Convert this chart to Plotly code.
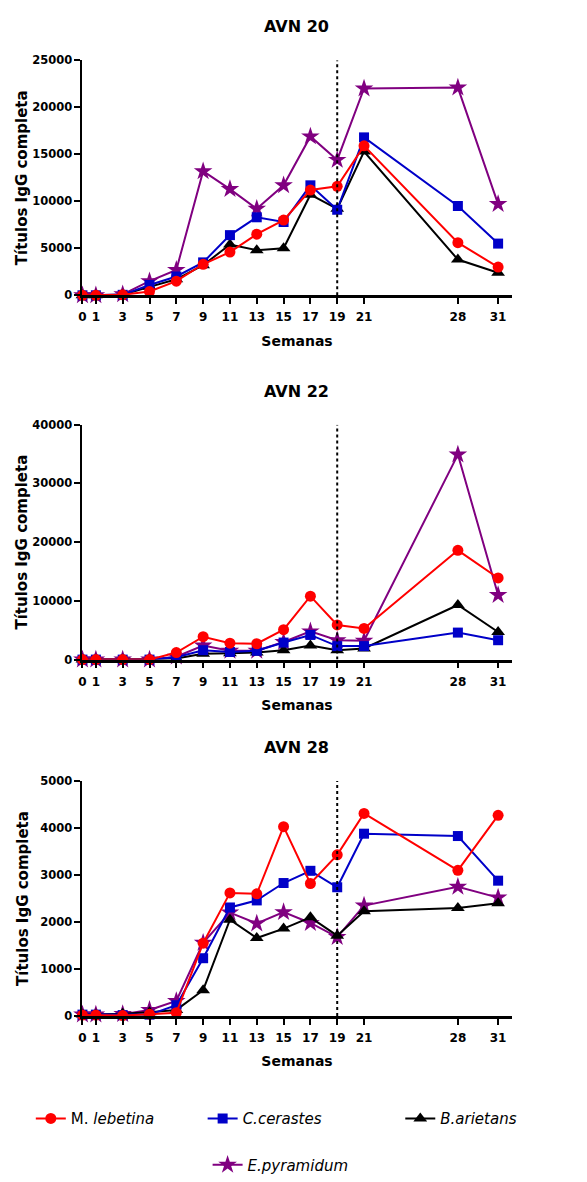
import plotly.graph_objects as go

weeks = [0, 1, 3, 5, 7, 9, 11, 13, 15, 17, 19, 21, 28, 31]
week_ticks = [0, 1, 3, 5, 7, 9, 11, 13, 15, 17, 19, 21, 28, 31]

panel_titles = ["AVN 20", "AVN 22", "AVN 28"]
y_max = [25000, 40000, 5000]
y_step = [5000, 10000, 1000]

series_names = ["M. <i>lebetina</i>", "<i>C.cerastes</i>", "<i>B.arietans</i>", "<i>E.pyramidum</i>"]

# AVN 20
mleb_20 = [0, 0, 50, 400, 1500, 3300, 4600, 6500, 8000, 11200, 11600, 15900, 5600, 3000]
ccer_20 = [0, 0, 50, 1100, 2000, 3500, 6400, 8300, 7800, 11700, 9100, 16800, 9500, 5500]
bari_20 = [0, 0, 50, 900, 1700, 3200, 5400, 4800, 5000, 10700, 9200, 15300, 3800, 2400]
epyr_20 = [0, 0, 100, 1500, 2700, 13200, 11300, 9200, 11700, 16900, 14400, 22000, 22100, 9700]

# AVN 22
mleb_22 = [0, 0, 0, 0, 1200, 3900, 2800, 2700, 5100, 10800, 5900, 5300, 18600, 13900]
ccer_22 = [0, 0, 0, 0, 400, 1600, 1300, 1500, 2900, 4200, 2300, 2300, 4600, 3300]
bari_22 = [0, 0, 0, 0, 200, 1000, 1100, 1200, 1600, 2400, 1600, 1900, 9300, 4700]
epyr_22 = [0, 0, 0, 0, 500, 2400, 1500, 1500, 3000, 4800, 3300, 3200, 34900, 11000]

# AVN 28
mleb_28 = [20, 20, 10, 40, 70, 1550, 2620, 2600, 4030, 2820, 3430, 4310, 3100, 4270]
ccer_28 = [30, 30, 20, 30, 230, 1230, 2310, 2460, 2830, 3090, 2740, 3880, 3830, 2880]
bari_28 = [30, 30, 50, 80, 130, 550, 2050, 1660, 1860, 2100, 1710, 2230, 2300, 2400]
epyr_28 = [30, 30, 40, 130, 320, 1560, 2200, 1970, 2210, 1980, 1680, 2350, 2750, 2520]

panels = [
    [mleb_20, ccer_20, bari_20, epyr_20],
    [mleb_22, ccer_22, bari_22, epyr_22],
    [mleb_28, ccer_28, bari_28, epyr_28],
]

dotted_week = 19

W, H = 587, 1182
colors = ["#FF0000", "#0000C8", "#000000", "#800080"]
symbols = ["circle", "square", "triangle-up", "star"]
msizes = [11, 10, 12, 14]
legend_ids = ["legend", "legend2", "legend3", "legend4"]
draw_order = [3, 2, 1, 0]

FONT = "DejaVu Sans"

# pixel positions of the plot areas
x_px = (79, 511)
y_px = [(54, 292), (423, 661), (784, 1022)]


def fx(px):
    return px / W


def fy(py):
    return 1 - py / H


fig = go.Figure()
for p in range(3):
    xa = "x" if p == 0 else f"x{p+1}"
    ya = "y" if p == 0 else f"y{p+1}"
    for s in draw_order:
        fig.add_trace(go.Scatter(
            x=weeks, y=panels[p][s], mode="lines+markers",
            name=series_names[s],
            line=dict(color=colors[s], width=2),
            marker=dict(color=colors[s], symbol=symbols[s], size=msizes[s],
                        line=dict(width=0)),
            xaxis=xa, yaxis=ya, cliponaxis=False,
            showlegend=(p == 0), legend=legend_ids[s],
        ))

layout = dict(
    width=W, height=H, margin=dict(l=0, r=0, t=0, b=0),
    paper_bgcolor="white", plot_bgcolor="white",
    font=dict(family=FONT, color="black"),
)

shapes = []
annotations = []
for p in range(3):
    sfx = "" if p == 0 else str(p + 1)
    top, bot = y_px[p]
    layout["xaxis" + sfx] = dict(
        domain=[fx(x_px[0]), fx(x_px[1])], range=[0, 32],
        anchor="y" + sfx, showgrid=False, zeroline=False,
        showline=True, linecolor="black", linewidth=2.5,
        ticks="outside", ticklen=6, tickwidth=2, tickcolor="black",
        tickvals=week_ticks, ticktext=[str(w) for w in week_ticks],
        tickfont=dict(family=FONT, size=12, weight="bold"),
        ticklabelstandoff=3,
        title=dict(text="Semanas", font=dict(family=FONT, size=14, weight="bold"), standoff=13),
    )
    layout["yaxis" + sfx] = dict(
        domain=[fy(bot), fy(top)], range=[0, y_max[p]], anchor="x" + sfx,
        showgrid=False, zeroline=False,
        showline=True, linecolor="black", linewidth=2,
        ticks="outside", ticklen=6, tickwidth=2, tickcolor="black",
        dtick=y_step[p], tick0=0, tickformat="d",
        tickfont=dict(family=FONT, size=11.5, weight="bold"),
        title=dict(text="Títulos IgG completa", font=dict(family=FONT, size=15, weight="bold"),
                   standoff=(8 if p == 2 else 1)),
    )
    shapes.append(dict(
        type="line", xref="x" + sfx, yref="y" + sfx,
        x0=dotted_week, x1=dotted_week, y0=0, y1=y_max[p],
        line=dict(color="black", width=2, dash="dot"),
    ))
    annotations.append(dict(
        text=panel_titles[p], xref="paper", yref="paper",
        x=fx((x_px[0] + x_px[1]) / 2), y=fy(top - 34),
        xanchor="center", yanchor="middle", showarrow=False,
        font=dict(family=FONT, size=16, weight="bold"),
    ))

layout["shapes"] = shapes
layout["annotations"] = annotations

leg_pos = [(27, 1126), (200, 1126), (399, 1126), (205, 1173)]
for i, lid in enumerate(legend_ids):
    lx, ly = leg_pos[i]
    layout[lid] = dict(
        x=fx(lx), y=fy(ly), xanchor="left", yanchor="middle",
        orientation="h", bgcolor="rgba(0,0,0,0)",
        font=dict(family=FONT, size=15, color="black"),
    )

fig.update_layout(**layout)
fig.write_html("out.html", config={"displayModeBar": False},
               post_script="document.body.style.margin='0px';")
